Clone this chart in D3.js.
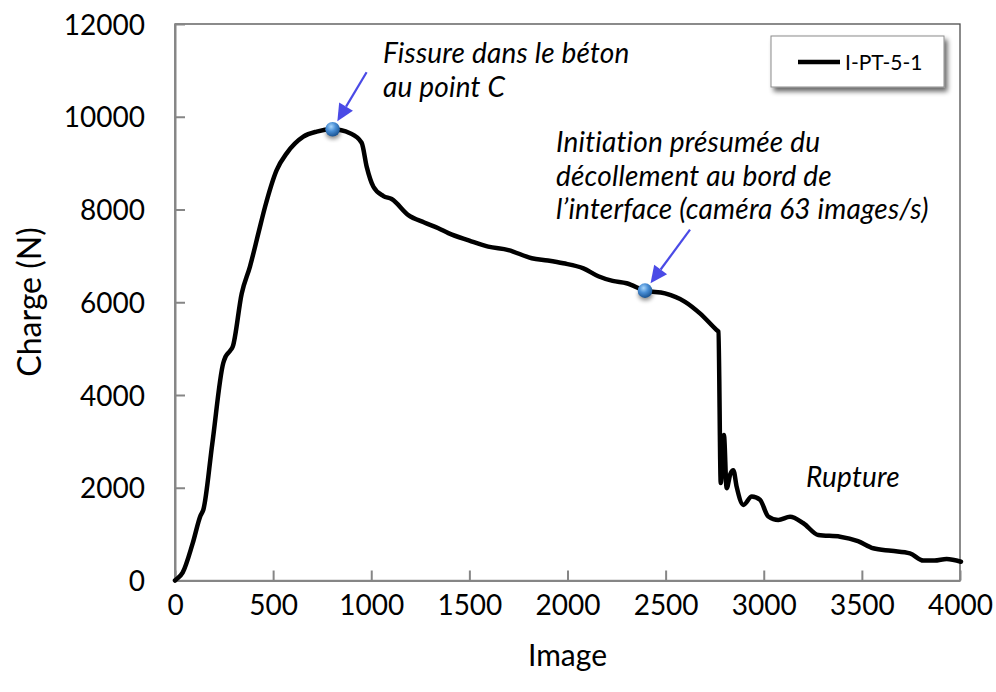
<!DOCTYPE html>
<html>
<head>
<meta charset="utf-8">
<script src="https://cdn.jsdelivr.net/npm/d3@7/dist/d3.min.js"></script>
<style>
  body { margin: 0; background: #ffffff; }
  svg { display: block; }
  text { font-family: Lato, "Open Sans", "Liberation Sans", sans-serif; fill: #000; }
</style>
</head>
<body>
<svg id="chart" width="996" height="692"></svg>
<script>
// Load curve of specimen I-PT-5-1: charge (N) against camera image number
const imageIndex = [0, 5, 39, 90, 131, 144, 190, 246, 258, 280, 294, 340, 382, 425, 459, 518, 569, 654, 722, 803,
  892, 951, 977, 1011, 1062, 1104, 1189, 1270, 1342, 1393, 1500, 1596, 1699, 1818, 1900, 1979, 2081, 2157, 2230,
  2301, 2395, 2497, 2599, 2675, 2760, 2769, 2781, 2797, 2811, 2830, 2845, 2862, 2896, 2939, 2981, 3023, 3074,
  3134, 3202, 3278, 3389, 3480, 3558, 3650, 3745, 3813, 3870, 3932, 4005];
const chargeN = [0, 20, 170, 800, 1410, 1520, 2950, 4690, 4830, 4950, 5040, 6190, 6770, 7490, 8060, 8850, 9210,
  9570, 9680, 9730, 9645, 9440, 8920, 8490, 8290, 8225, 7880, 7720, 7595, 7490, 7330, 7200, 7125, 6950, 6900,
  6840, 6730, 6560, 6460, 6410, 6250, 6190, 6010, 5760, 5400, 5365, 2100, 3140, 1990, 2300, 2380, 2020, 1630,
  1810, 1740, 1380, 1305, 1375, 1235, 980, 945, 850, 695, 640, 585, 430, 430, 465, 405];

const seriesName = "I-PT-5-1";
const xTicks = [0, 500, 1000, 1500, 2000, 2500, 3000, 3500, 4000];
const yTicks = [0, 2000, 4000, 6000, 8000, 10000, 12000];
const xTitle = "Image";
const yTitle = "Charge  (N)";

// Two remarkable events along the curve
const eventImage = [803, 2395];
const eventCharge = [9730, 6250];
const eventLabels = [
  ["Fissure dans le béton", "au point C"],
  ["Initiation présumée du", "décollement au bord de", "l\u2019interface (caméra 63 images/s)"]
];
const ruptureLabel = "Rupture";

// ---- layout ----
const svg = d3.select("#chart");
const plotLeft = 175, plotRight = 960, plotTop = 24, plotBottom = 580.5;

const x = d3.scaleLinear().domain([0, 4000]).range([plotLeft, plotRight]);
const y = d3.scaleLinear().domain([0, 12000]).range([plotBottom, plotTop]);

const defs = svg.append("defs");

const shadow = defs.append("filter").attr("id", "boxShadow")
  .attr("x", "-20%").attr("y", "-20%").attr("width", "150%").attr("height", "170%");
shadow.append("feGaussianBlur").attr("in", "SourceAlpha").attr("stdDeviation", 2.5).attr("result", "b");
shadow.append("feOffset").attr("in", "b").attr("dx", 3).attr("dy", 4).attr("result", "o");
shadow.append("feComponentTransfer").attr("in", "o").attr("result", "s")
  .append("feFuncA").attr("type", "linear").attr("slope", 0.6);
const m1 = shadow.append("feMerge");
m1.append("feMergeNode").attr("in", "s");
m1.append("feMergeNode").attr("in", "SourceGraphic");

const dotShadow = defs.append("filter").attr("id", "dotShadow")
  .attr("x", "-100%").attr("y", "-100%").attr("width", "300%").attr("height", "300%");
dotShadow.append("feGaussianBlur").attr("stdDeviation", 2);

const ball = defs.append("radialGradient").attr("id", "ball")
  .attr("cx", "40%").attr("cy", "32%").attr("r", "70%");
ball.append("stop").attr("offset", "0%").attr("stop-color", "#a9d6fa");
ball.append("stop").attr("offset", "45%").attr("stop-color", "#4a8fd6");
ball.append("stop").attr("offset", "100%").attr("stop-color", "#17508f");

// plot frame
svg.append("rect")
  .attr("x", plotLeft).attr("y", plotTop).attr("width", plotRight - plotLeft).attr("height", plotBottom - plotTop)
  .attr("fill", "none").attr("stroke", "#4d4d4d").attr("stroke-width", 1.3);

// axes
const axisColor = "#868686";
const gx = svg.append("g").attr("transform", `translate(0,${plotBottom})`)
  .call(d3.axisBottom(x).tickValues(xTicks).tickFormat(d3.format("d"))
    .tickSizeInner(-10).tickSizeOuter(0).tickPadding(15));
const gy = svg.append("g").attr("transform", `translate(${plotLeft},0)`)
  .call(d3.axisLeft(y).tickValues(yTicks).tickFormat(d3.format("d"))
    .tickSizeInner(-10).tickSizeOuter(0).tickPadding(30));
[gx, gy].forEach(g => {
  g.select(".domain").attr("stroke", axisColor).attr("stroke-width", 2);
  g.selectAll(".tick line").attr("stroke", axisColor).attr("stroke-width", 2);
  g.selectAll(".tick text").attr("font-size", 28).attr("fill", "#000")
    .style("font-family", "Lato, 'Open Sans', sans-serif");
});
gy.selectAll(".tick text").attr("dy", "0.36em");

// axis titles
svg.append("text").attr("x", (plotLeft + plotRight) / 2).attr("y", 666)
  .attr("text-anchor", "middle").attr("font-size", 30).text(xTitle);
svg.append("text").attr("transform", "translate(41,302) rotate(-90)")
  .attr("text-anchor", "middle").attr("font-size", 32).text(yTitle);

// load curve
const series = imageIndex.map((v, i) => ({ image: v, charge: chargeN[i] }));
svg.append("path").datum(series)
  .attr("fill", "none").attr("stroke", "#000").attr("stroke-width", 4.5)
  .attr("stroke-linejoin", "round").attr("stroke-linecap", "round")
  .attr("d", d3.line().x(d => x(d.image)).y(d => y(d.charge)).curve(d3.curveMonotoneX));

// event markers
const events = eventImage.map((v, i) => ({ image: v, charge: eventCharge[i] }));
const r = 7.3;
svg.selectAll("ellipse.evshadow").data(events).join("ellipse")
  .attr("class", "evshadow")
  .attr("cx", d => x(d.image) + 0.5).attr("cy", d => y(d.charge) + 4)
  .attr("rx", r).attr("ry", r * 0.8)
  .attr("fill", "#000").attr("opacity", 0.45).attr("filter", "url(#dotShadow)");
svg.selectAll("circle.ev").data(events).join("circle")
  .attr("class", "ev")
  .attr("cx", d => x(d.image)).attr("cy", d => y(d.charge)).attr("r", r)
  .attr("fill", "url(#ball)");

// arrows pointing at the markers
const arrowColor = "#4a4ae6";
const arrowStart = [[34, -57], [45, -61]];
events.forEach((d, i) => {
  const cx = x(d.image), cy = y(d.charge);
  const sx = cx + arrowStart[i][0], sy = cy + arrowStart[i][1];
  const len = Math.hypot(sx - cx, sy - cy);
  const ux = (sx - cx) / len, uy = (sy - cy) / len;
  const tx = cx + ux * (r + 2), ty = cy + uy * (r + 2);
  const head = 17, half = 8;
  const bx = tx + ux * head, by = ty + uy * head;
  svg.append("line").attr("x1", sx).attr("y1", sy).attr("x2", bx).attr("y2", by)
    .attr("stroke", arrowColor).attr("stroke-width", 2.2);
  svg.append("path")
    .attr("d", `M${tx},${ty}L${bx - uy * half},${by + ux * half}L${bx + uy * half},${by - ux * half}Z`)
    .attr("fill", arrowColor);
});

// annotation texts
const labelPos = [[383, 63], [556, 152]];
eventLabels.forEach((lines, i) => {
  const t = svg.append("text").attr("x", labelPos[i][0]).attr("y", labelPos[i][1])
    .attr("font-size", 28).attr("letter-spacing", 0.2).attr("font-style", "italic");
  lines.forEach((s, j) => t.append("tspan").attr("x", labelPos[i][0]).attr("dy", j === 0 ? 0 : 33.5).text(s));
});
svg.append("text").attr("x", 806).attr("y", 487).attr("font-size", 28).attr("letter-spacing", 0.2)
  .attr("font-style", "italic").text(ruptureLabel);

// legend
const lg = svg.append("g");
lg.append("rect").attr("x", 771).attr("y", 36).attr("width", 173).attr("height", 51)
  .attr("fill", "#fff").attr("stroke", "#8c8c8c").attr("stroke-width", 1).attr("filter", "url(#boxShadow)");
lg.append("line").attr("x1", 798).attr("x2", 840).attr("y1", 62).attr("y2", 62)
  .attr("stroke", "#000").attr("stroke-width", 4.5);
lg.append("text").attr("x", 845).attr("y", 62).attr("dy", "0.36em").attr("font-size", 21).text(seriesName);
</script>
</body>
</html>
